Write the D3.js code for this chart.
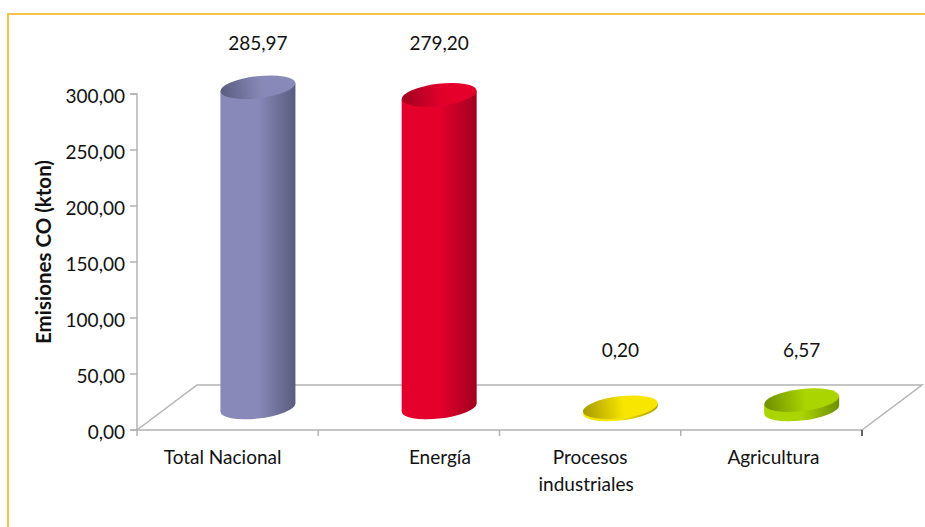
<!DOCTYPE html>
<html>
<head>
<meta charset="utf-8">
<script src="https://cdn.jsdelivr.net/npm/d3@7/dist/d3.min.js"></script>
<style>
html,body{margin:0;padding:0;background:#fff}
svg{display:block}
text{font-family:Lato,"Open Sans",sans-serif;fill:#111}
</style>
</head>
<body>
<svg id="chart" width="925" height="527"></svg>
<script>
// Emisiones de CO por sector
const categories = ["Total Nacional", "Energía", "Procesos industriales", "Agricultura"];
const values = [285.97, 279.20, 0.20, 6.57];
const valueLabels = ["285,97", "279,20", "0,20", "6,57"];
const baseColors = ["#8889b8", "#e4002b", "#f8e600", "#aad500"];
const darkColors = ["#5a5c7e", "#a00020", "#a89a00", "#6f8f00"];
const yTicks = [0, 50, 100, 150, 200, 250, 300];
const axisTitle = "Emisiones CO (kton)";

const svg = d3.select("#chart");
const defs = svg.append("defs");

const plot = {left: 137, right: 862, bottom: 430, top: 94};
const depth = {x: 60, y: 45};
const fontSize = 19;

const x = d3.scaleBand().domain(categories).range([plot.left, plot.right]);
const y = d3.scaleLinear().domain([0, 300]).range([plot.bottom, plot.top]);

// Page frame: two thin amber rules on the top and left edges
svg.append("path")
  .attr("d", "M8,527V14H925")
  .attr("fill", "none")
  .attr("stroke", "#f8c04c")
  .attr("stroke-width", 2);

// Floor of the 3D plot
svg.append("path")
  .attr("d", d3.line()([
    [plot.left, plot.bottom],
    [plot.left + depth.x, plot.bottom - depth.y],
    [plot.right + depth.x, plot.bottom - depth.y],
    [plot.right, plot.bottom]
  ]))
  .attr("fill", "none")
  .attr("stroke", "#b2b2b2")
  .attr("stroke-width", 1.5);

// Value axis
const yAxis = d3.axisLeft(y)
  .tickValues(yTicks)
  .tickSize(7)
  .tickPadding(5)
  .offset(0)
  .tickFormat(d => d3.format(".2f")(d).replace(".", ","));
const yG = svg.append("g").attr("transform", `translate(${plot.left},0)`).call(yAxis);
yG.select(".domain").attr("stroke", "#b2b2b2").attr("stroke-width", 1.5);
yG.selectAll(".tick line").attr("stroke", "#b2b2b2").attr("stroke-width", 1.5);
yG.selectAll(".tick text")
  .attr("font-size", fontSize)
  .attr("font-family", "Lato")
  .attr("fill", "#111")
  .attr("dy", "0.45em");

// Category axis
const xAxis = d3.axisBottom(x).tickValues([]).tickSizeOuter(0).offset(0);
const xG = svg.append("g").attr("transform", `translate(0,${plot.bottom})`).call(xAxis);
xG.select(".domain").attr("stroke", "#b2b2b2").attr("stroke-width", 1.5);
const xEdges = categories.map(c => x(c)).concat(plot.right);
xG.selectAll("line.edge").data(xEdges).join("line")
  .attr("class", "edge")
  .attr("x1", d => d).attr("x2", d => d)
  .attr("y1", 0).attr("y2", 6)
  .attr("stroke", (d, i) => i === xEdges.length - 1 ? "#333" : "#b2b2b2")
  .attr("stroke-width", 1.5);

// Category labels, wrapped by line
const labelLines = [
  [{t: "Total Nacional", dx: -5}],
  [{t: "Energía", dx: 31}],
  [{t: "Procesos", dx: 0}, {t: "industriales", dx: -4}],
  [{t: "Agricultura", dx: 2}]
];
categories.forEach((c, i) => {
  labelLines[i].forEach((l, j) => {
    svg.append("text")
      .attr("x", x(c) + x.bandwidth() / 2 + l.dx)
      .attr("y", 464 + j * 27)
      .attr("text-anchor", "middle")
      .attr("font-size", fontSize)
      .text(l.t);
  });
});

// Axis title
svg.append("text")
  .attr("transform", "translate(51,252) rotate(-90)")
  .attr("text-anchor", "middle")
  .attr("font-size", 20.5)
  .attr("font-weight", 700)
  .text(axisTitle);

// Cylinders stand halfway into the floor depth
const hw = 37.5, skew = 4, rx = 37.7, ry = 11, tilt = -6.7;
const baseY = plot.bottom - depth.y / 2;

function gradient(id, stops) {
  const g = defs.append("linearGradient").attr("id", id)
    .attr("x1", 0).attr("x2", 1).attr("y1", 0).attr("y2", 0);
  stops.forEach(s => g.append("stop").attr("offset", s[0]).attr("stop-color", s[1]));
}

categories.forEach((c, i) => {
  const cx = x(c) + x.bandwidth() / 2 + depth.x / 2 + 0.3;
  const rise = plot.bottom - y(values[i]);
  const top = baseY - rise;
  const bottom = values[i] < 50 ? baseY + 2 : baseY;

  gradient(`side${i}`, [[0, baseColors[i]], [0.5, baseColors[i]], [1, darkColors[i]]]);
  gradient(`cap${i}`, [[0, darkColors[i]], [0.55, baseColors[i]], [1, baseColors[i]]]);

  svg.append("path")
    .attr("d", `M${cx - hw},${top + skew}L${cx + hw},${top - skew}L${cx + hw},${bottom - skew}` +
               `A${rx},${ry} ${tilt} 0 1 ${cx - hw},${bottom + skew}Z`)
    .attr("fill", `url(#side${i})`);

  svg.append("ellipse")
    .attr("cx", 0).attr("cy", 0)
    .attr("rx", rx).attr("ry", ry)
    .attr("transform", `translate(${cx},${top}) rotate(${tilt})`)
    .attr("fill", `url(#cap${i})`);

  // Value label, in the upper or lower row depending on bar height
  svg.append("text")
    .attr("x", cx)
    .attr("y", values[i] > 100 ? 50 : 357)
    .attr("text-anchor", "middle")
    .attr("font-size", fontSize)
    .text(valueLabels[i]);
});
</script>
</body>
</html>
